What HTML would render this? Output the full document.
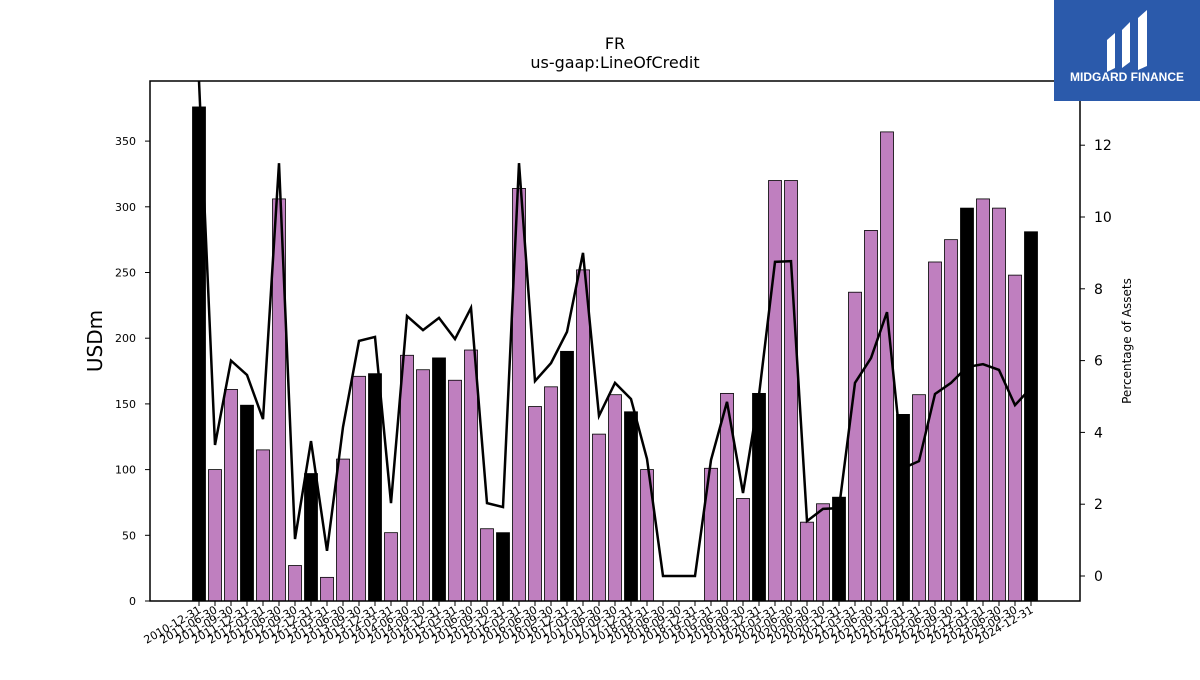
<!DOCTYPE html>
<html><head><meta charset="utf-8"><style>
body{margin:0;background:#fff;font-family:"Liberation Sans","DejaVu Sans",sans-serif}
</style></head><body>
<svg id="c" width="1200" height="675" xmlns="http://www.w3.org/2000/svg" font-family="DejaVu Sans, Liberation Sans, sans-serif">
<text x="615" y="49" text-anchor="middle" font-size="16">FR</text>
<text x="615" y="68" text-anchor="middle" font-size="16">us-gaap:LineOfCredit</text>
<text transform="translate(102,341) rotate(-90)" text-anchor="middle" font-size="20">USDm</text>
<text transform="translate(1131,341) rotate(-90)" text-anchor="middle" font-size="12">Percentage of Assets</text>
<g id="bars"></g>
<g id="axes"></g>
<polyline id="line" fill="none" stroke="#000" stroke-width="2.5"/>
<rect x="150" y="81" width="930" height="520" fill="none" stroke="#000" stroke-width="1.5"/>
<g>
<rect x="1054" y="0" width="146" height="101" fill="#2b5aab"/>
<path d="M1107 40 L1115 33 L1115 68 L1107 72 Z M1122 30 L1130 22 L1130 62 L1122 68 Z M1138 18 L1147 10 L1147 66 L1138 70 Z" fill="#fff"/>
<text x="1127" y="81" text-anchor="middle" font-size="12" font-weight="bold" fill="#fff" font-family="Liberation Sans, sans-serif">MIDGARD FINANCE</text>
</g>
</svg>
<script>
const labels=["2010-12-31","2011-06-30","2011-09-30","2011-12-31","2012-03-31","2012-06-30","2012-09-30","2012-12-31","2013-03-31","2013-06-30","2013-09-30","2013-12-31","2014-03-31","2014-06-30","2014-09-30","2014-12-31","2015-03-31","2015-06-30","2015-09-30","2015-12-31","2016-03-31","2016-06-30","2016-09-30","2016-12-31","2017-03-31","2017-06-30","2017-09-30","2017-12-31","2018-03-31","2018-06-30","2018-09-30","2018-12-31","2019-03-31","2019-06-30","2019-09-30","2019-12-31","2020-03-31","2020-06-30","2020-06-30","2020-09-30","2020-12-31","2021-03-31","2021-06-30","2021-09-30","2021-12-31","2022-03-31","2022-06-30","2022-09-30","2022-12-31","2023-03-31","2023-06-30","2023-09-30","2024-12-31"];
const values=[376,100,161,149,115,306,27,97,18,108,171,173,52,187,176,185,168,191,55,52,314,148,163,190,252,127,157,144,100,0,0,0,101,158,78,158,320,320,60,74,79,235,282,357,142,157,258,275,299,306,299,248,281];
const yearEnd=[1,0,0,1,0,0,0,1,0,0,0,1,0,0,0,1,0,0,0,1,0,0,0,1,0,0,0,1,0,0,0,0,0,0,0,1,0,0,0,0,1,0,0,0,1,0,0,0,1,0,0,0,1];
const pct=[13.8,3.65,6.0,5.6,4.37,11.5,1.03,3.76,0.7,4.15,6.55,6.66,2.03,7.24,6.85,7.19,6.6,7.47,2.03,1.92,11.5,5.43,5.93,6.8,9.0,4.46,5.38,4.93,3.26,0,0,0,3.23,4.85,2.31,5.04,8.75,8.77,1.53,1.87,1.89,5.38,6.07,7.35,3.0,3.2,5.07,5.38,5.82,5.9,5.74,4.76,5.24];
const yTicks=[0,50,100,150,200,250,300,350];
const y2Ticks=[0,2,4,6,8,10,12];
const NS="http://www.w3.org/2000/svg";
const x=i=>199+i*16.0;
const y=v=>601-v*1.314;
const y2=v=>576-v*35.9;
function mk(t,a,p){const e=document.createElementNS(NS,t);for(const k in a)e.setAttribute(k,a[k]);p.appendChild(e);return e;}
const bars=document.getElementById('bars'),axes=document.getElementById('axes');
values.forEach((v,i)=>{const r=mk('rect',{x:x(i)-6.5,y:y(v),width:13,height:v*1.314,fill:yearEnd[i]?'#000':'#bf7fbf',stroke:'#000','stroke-width':0.8},bars);

});
labels.forEach((l,i)=>{mk('line',{x1:x(i),x2:x(i),y1:601,y2:606,stroke:'#000'},axes);
const t=mk('text',{transform:`translate(${x(i)+3},${612}) rotate(-30)`,'text-anchor':'end','font-size':11},axes);t.textContent=l;

});
yTicks.forEach(v=>{mk('line',{x1:145,x2:150,y1:y(v),y2:y(v),stroke:'#000'},axes);
const t=mk('text',{x:136,y:y(v)+4,'text-anchor':'end','font-size':11},axes);t.textContent=v;

});
y2Ticks.forEach(v=>{mk('line',{x1:1080,x2:1085,y1:y2(v),y2:y2(v),stroke:'#000'},axes);
const t=mk('text',{x:1094,y:y2(v)+5,'font-size':14},axes);t.textContent=v;

});
document.getElementById('line').setAttribute('points',pct.map((v,i)=>x(i)+','+Math.max(81,y2(v))).join(' '));
</script>
</body></html>
